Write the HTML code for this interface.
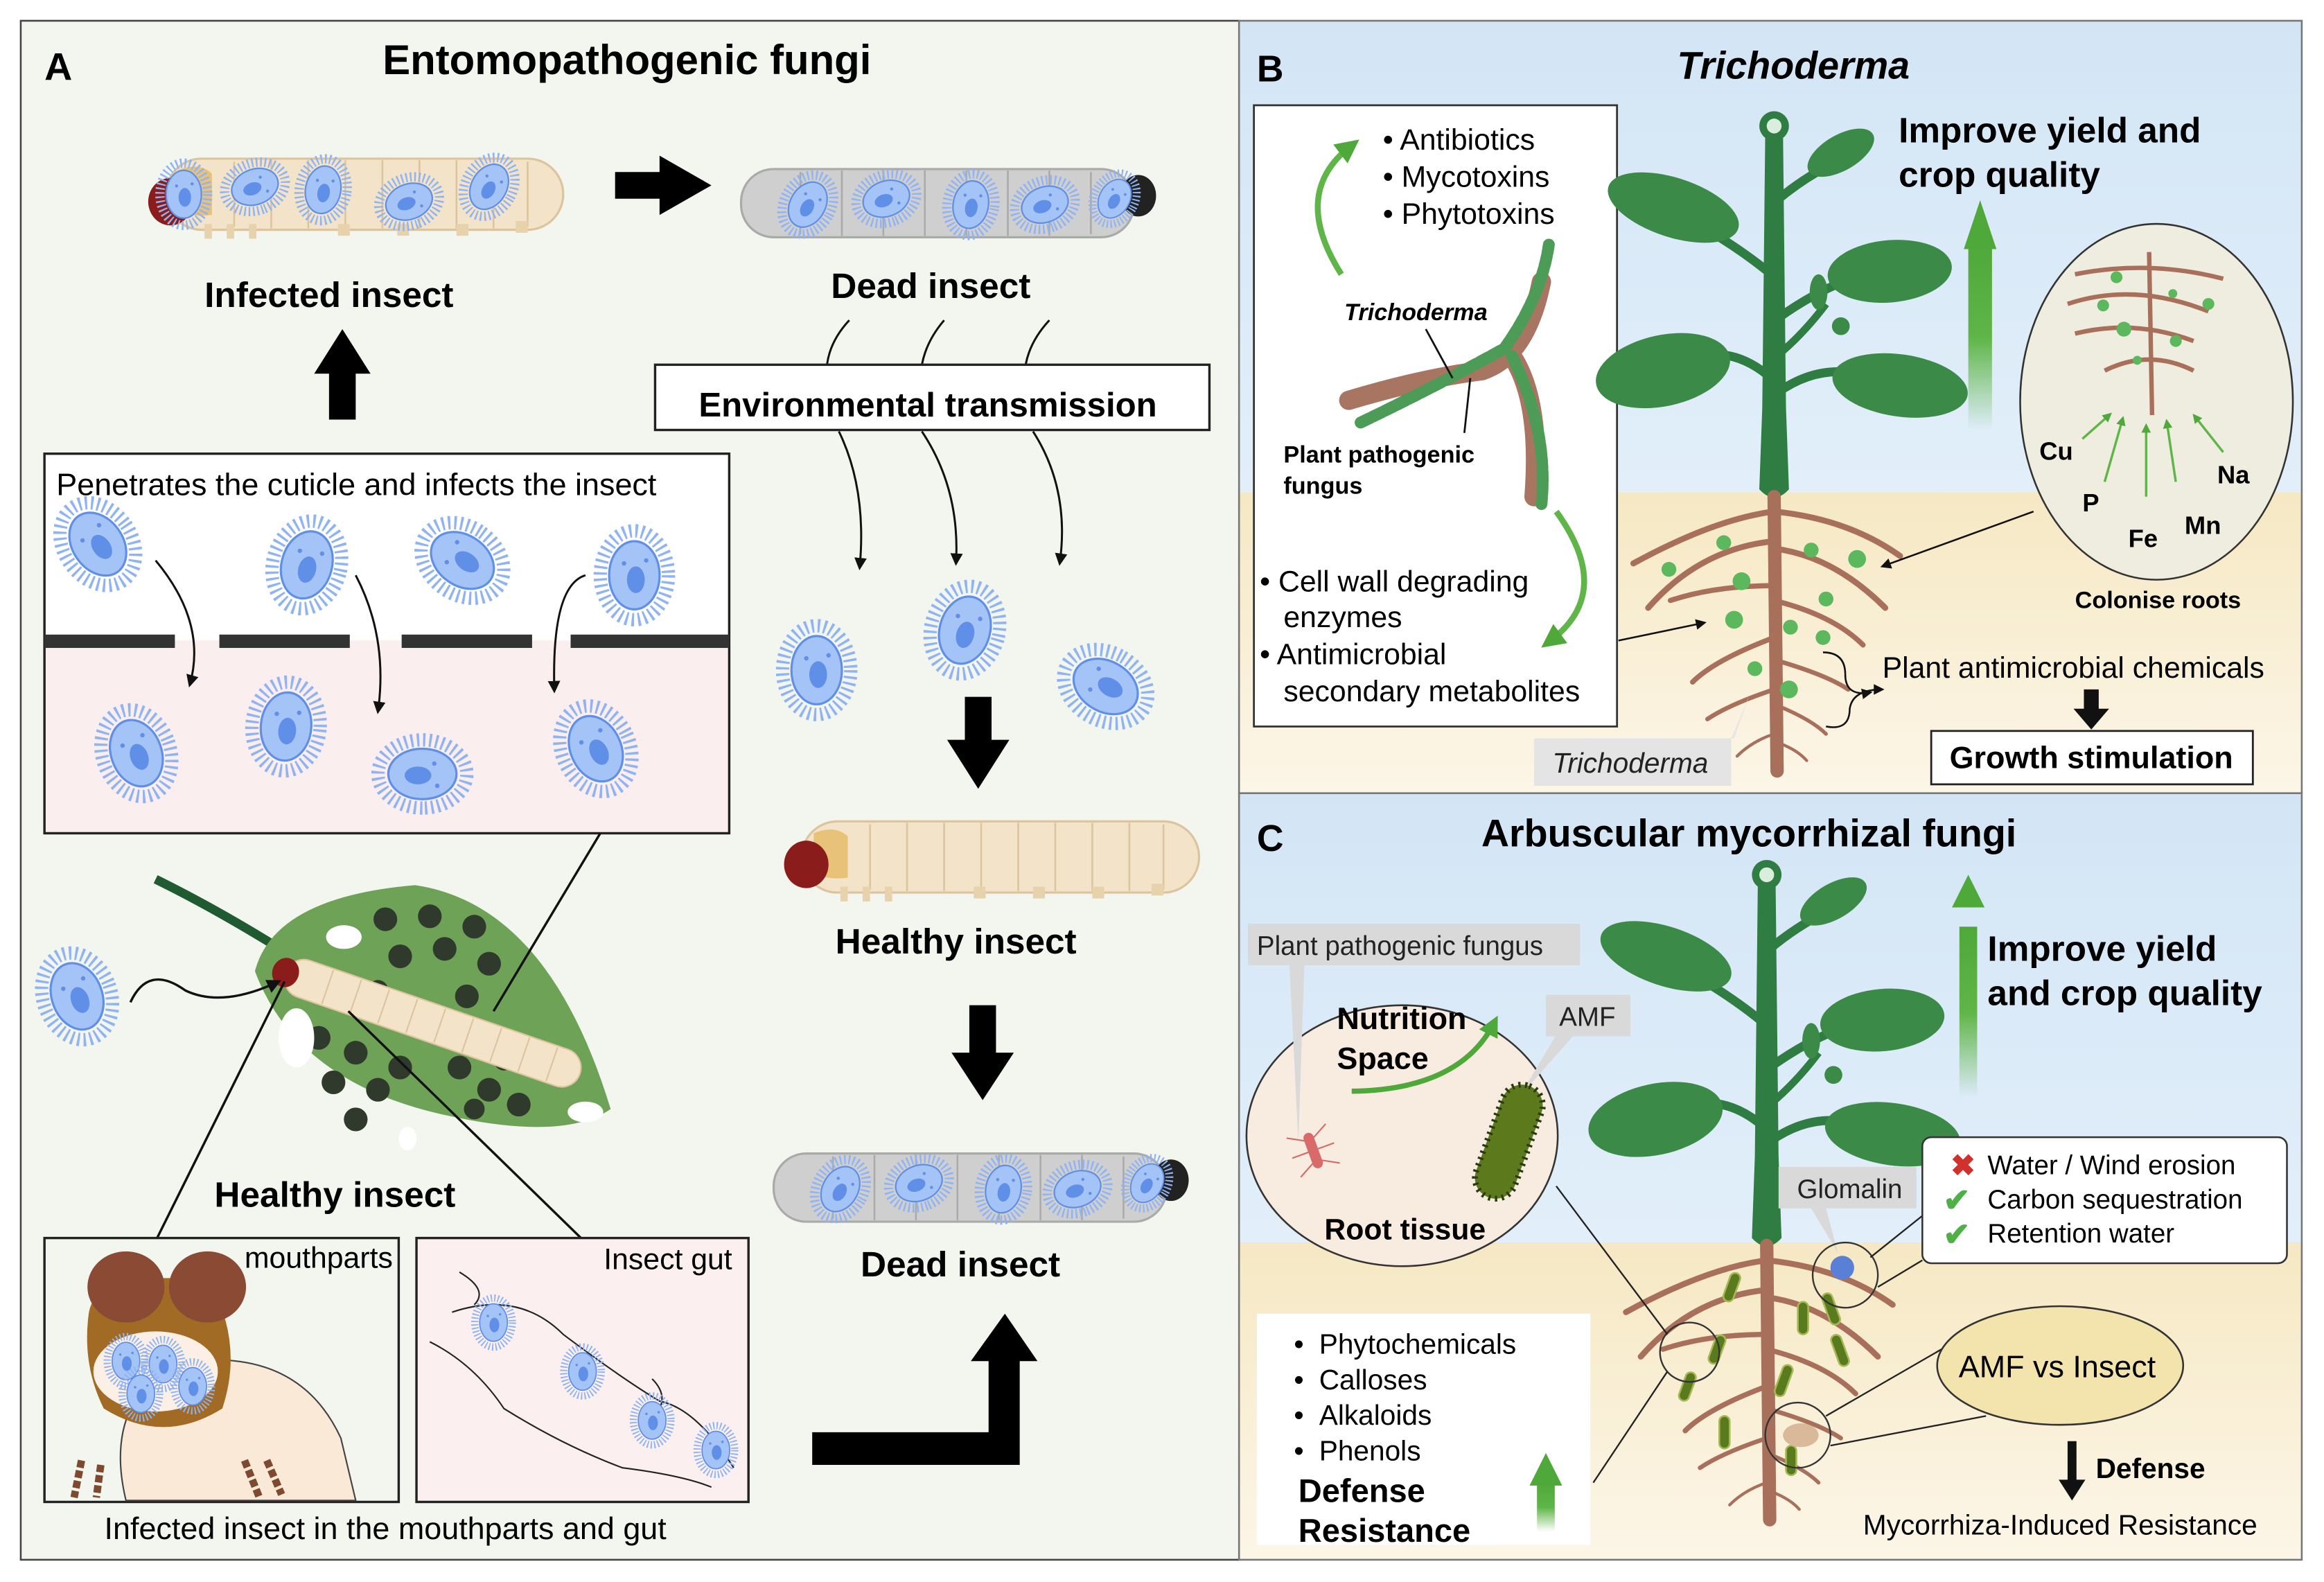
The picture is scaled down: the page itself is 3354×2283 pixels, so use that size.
<!DOCTYPE html>
<html><head><meta charset="utf-8"><style>
html,body{margin:0;padding:0;background:#fff}
svg{display:block}
text{font-family:"Liberation Sans",Arial,sans-serif}
</style></head><body>
<svg width="3354" height="2283" viewBox="0 0 1568 1067" preserveAspectRatio="none" xmlns="http://www.w3.org/2000/svg">
<defs>
<linearGradient id="soilB" x1="0" y1="0" x2="0" y2="1"><stop offset="0" stop-color="#f6e8c3"/><stop offset="1" stop-color="#fcf6e8"/></linearGradient>
<linearGradient id="skyB" x1="0" y1="0" x2="0" y2="1"><stop offset="0" stop-color="#d3e5f5"/><stop offset="1" stop-color="#e2effa"/></linearGradient>
<linearGradient id="garr" x1="0" y1="1" x2="0" y2="0"><stop offset="0" stop-color="#5fb548" stop-opacity="0"/><stop offset="0.5" stop-color="#5fb548"/><stop offset="1" stop-color="#4fa83a"/></linearGradient>
<marker id="ah" viewBox="0 0 10 10" refX="8" refY="5" markerWidth="6" markerHeight="6" orient="auto"><path d="M0,0L10,5L0,10z" fill="#111"/></marker>
<marker id="gah" viewBox="0 0 10 10" refX="6" refY="5" markerWidth="4" markerHeight="4" orient="auto"><path d="M0,0L10,5L0,10z" fill="#4fa83a"/></marker>
<g id="spore">
<ellipse rx="23" ry="30" fill="none" stroke="#8fb3f3" stroke-width="9" stroke-dasharray="1.6 2.6"/>
<ellipse rx="17" ry="23" fill="#a4c3f7" stroke="#5f8fe6" stroke-width="1.5"/>
<ellipse rx="6" ry="9" fill="#5f8fe6" cx="1" cy="3"/>
<circle cx="-7" cy="-8" r="1.5" fill="#5f8fe6"/><circle cx="8" cy="-10" r="1.5" fill="#5f8fe6"/>
</g>
<g id="ssp"><use href="#spore" transform="scale(0.55)"/></g>
<g id="larvaH">
<rect x="14" y="4" width="268" height="48" rx="24" fill="#f3e4c9" stroke="#dcc49e" stroke-width="1.5"/>
<g stroke="#dcc49e" stroke-width="1.2"><line x1="60" y1="6" x2="60" y2="50"/><line x1="85" y1="5" x2="85" y2="51"/><line x1="110" y1="5" x2="110" y2="51"/><line x1="135" y1="5" x2="135" y2="51"/><line x1="160" y1="5" x2="160" y2="51"/><line x1="185" y1="5" x2="185" y2="51"/><line x1="210" y1="5" x2="210" y2="51"/><line x1="235" y1="5" x2="235" y2="51"/><line x1="258" y1="6" x2="258" y2="50"/></g>
<g fill="#e8d2ac"><rect x="40" y="48" width="5" height="10"/><rect x="55" y="48" width="5" height="10"/><rect x="70" y="48" width="5" height="10"/><rect x="130" y="48" width="8" height="8"/><rect x="170" y="48" width="8" height="8"/><rect x="210" y="48" width="8" height="8"/><rect x="250" y="46" width="8" height="8"/></g>
<path d="M22,12 Q36,6 45,14 L45,42 Q30,44 22,38z" fill="#e9c27a"/>
<ellipse cx="17" cy="33" rx="15" ry="16" fill="#8a1c1c"/>
</g>
<g id="larvaD">
<rect x="0" y="6" width="265" height="46" rx="22" fill="#cfcfcf" stroke="#aaa" stroke-width="1.5"/>
<g stroke="#aaa" stroke-width="1.2"><line x1="40" y1="8" x2="40" y2="50"/><line x1="68" y1="7" x2="68" y2="51"/><line x1="96" y1="7" x2="96" y2="51"/><line x1="124" y1="7" x2="124" y2="51"/><line x1="152" y1="7" x2="152" y2="51"/><line x1="180" y1="7" x2="180" y2="51"/><line x1="208" y1="7" x2="208" y2="51"/><line x1="236" y1="8" x2="236" y2="50"/></g>
<ellipse cx="268" cy="24" rx="12" ry="14" fill="#222"/>
<use href="#spore" transform="translate(45,30) scale(0.7) rotate(30)"/>
<use href="#spore" transform="translate(98,26) scale(0.7) rotate(70)"/>
<use href="#spore" transform="translate(155,30) scale(0.7) rotate(10)"/>
<use href="#spore" transform="translate(205,30) scale(0.7) rotate(70)"/>
<use href="#spore" transform="translate(252,26) scale(0.6) rotate(30)"/>
</g>
<g id="plant">
<g fill="#2f7d42">
<path d="M-6,-245 L6,-245 L8,-60 L10,-5 Q0,6 -10,-5 L-8,-60z"/>
<circle cx="0" cy="-250" r="10"/>
<path d="M2,-200 Q20,-215 40,-225" stroke="#2f7d42" stroke-width="6" fill="none"/>
<path d="M-2,-150 Q-20,-165 -45,-180" stroke="#2f7d42" stroke-width="6" fill="none"/>
<path d="M2,-120 Q30,-140 55,-148" stroke="#2f7d42" stroke-width="6" fill="none"/>
<path d="M-2,-80 Q-25,-100 -50,-95" stroke="#2f7d42" stroke-width="6" fill="none"/>
<path d="M2,-70 Q30,-90 60,-82" stroke="#2f7d42" stroke-width="6" fill="none"/>
<path d="M2,-95 Q20,-110 35,-130" stroke="#2f7d42" stroke-width="5" fill="none"/>
</g>
<g fill="#3b8a47">
<ellipse cx="45" cy="-232" rx="25" ry="12" transform="rotate(-30 45 -232)"/>
<ellipse cx="-68" cy="-195" rx="46" ry="20" transform="rotate(18 -68 -195)"/>
<ellipse cx="78" cy="-152" rx="42" ry="21" transform="rotate(-5 78 -152)"/>
<ellipse cx="-75" cy="-85" rx="46" ry="24" transform="rotate(-12 -75 -85)"/>
<ellipse cx="85" cy="-75" rx="46" ry="21" transform="rotate(8 85 -75)"/>
<ellipse cx="30" cy="-138" rx="6" ry="12"/>
<circle cx="45" cy="-115" r="6"/>
</g>
<circle cx="0" cy="-250" r="5" fill="#d9eedd"/>
<g stroke="#a8705a" fill="none" stroke-linecap="round">
<path d="M0,0 L2,185" stroke-width="9"/>
<path d="M0,10 Q-40,15 -95,45" stroke-width="4"/>
<path d="M0,10 Q50,15 85,40" stroke-width="4"/>
<path d="M0,30 Q-50,35 -85,75" stroke-width="4"/>
<path d="M0,35 Q40,40 75,75" stroke-width="4"/>
<path d="M0,60 Q-40,60 -70,70" stroke-width="3.5"/>
<path d="M0,70 Q40,80 60,100" stroke-width="3.5"/>
<path d="M0,95 Q-40,110 -55,125" stroke-width="3.5"/>
<path d="M0,110 Q35,120 50,130" stroke-width="3"/>
<path d="M0,130 Q-30,140 -45,150" stroke-width="3"/>
<path d="M0,140 Q25,150 35,160" stroke-width="2.5"/>
<path d="M0,160 Q-15,165 -25,175 M0,165 Q15,170 22,178" stroke-width="2"/>
</g>
</g>
</defs>

<rect width="1568" height="1067" fill="#fff"/>
<!-- Panel A -->
<rect x="14" y="14" width="822" height="1038" fill="#f3f6ef" stroke="#444" stroke-width="1.2"/>
<text x="30" y="54" font-size="26" font-weight="bold">A</text>
<text x="423" y="50" font-size="28" font-weight="bold" text-anchor="middle">Entomopathogenic fungi</text>
<use href="#larvaH" transform="translate(98,103)"/>
<use href="#spore" transform="translate(124,131) scale(0.7)"/>
<use href="#spore" transform="translate(172,126) scale(0.7) rotate(70)"/>
<use href="#spore" transform="translate(218,128) scale(0.7) rotate(10)"/>
<use href="#spore" transform="translate(276,136) scale(0.7) rotate(70)"/>
<use href="#spore" transform="translate(330,126) scale(0.7) rotate(30)"/>
<text x="222" y="207" font-size="24" font-weight="bold" text-anchor="middle">Infected insect</text>
<polygon points="415,116 445,116 445,105 480,125 445,145 445,134 415,134" fill="#000"/>
<use href="#larvaD" transform="translate(500,108)"/>
<text x="628" y="201" font-size="24" font-weight="bold" text-anchor="middle">Dead insect</text>
<polygon points="222,283 240,283 240,252 250,252 231,222 212,252 222,252" fill="#000"/>
<g stroke="#111" stroke-width="1.4" fill="none">
<path d="M573,216 Q560,230 558,246"/><path d="M637,216 Q625,230 622,246"/><path d="M708,216 Q695,230 692,246"/>
<path d="M566,291 Q585,330 580,383" marker-end="url(#ah)"/>
<path d="M622,291 Q648,330 645,380" marker-end="url(#ah)"/>
<path d="M697,291 Q722,330 715,380" marker-end="url(#ah)"/>
</g>
<rect x="442" y="246" width="374" height="44" fill="#fff" stroke="#222" stroke-width="1.6"/>
<text x="626" y="281" font-size="23" font-weight="bold" text-anchor="middle">Environmental transmission</text>
<rect x="30" y="306" width="462" height="126" fill="#fff"/>
<rect x="30" y="432" width="462" height="130" fill="#fbeeee"/>
<rect x="30" y="306" width="462" height="256" fill="none" stroke="#222" stroke-width="1.6"/>
<g fill="#333"><rect x="30" y="428" width="88" height="9"/><rect x="148" y="428" width="88" height="9"/><rect x="271" y="428" width="88" height="9"/><rect x="385" y="428" width="107" height="9"/></g>
<text x="38" y="334" font-size="21">Penetrates the cuticle and infects the insect</text>
<use href="#spore" transform="translate(66,367) rotate(-35)"/>
<use href="#spore" transform="translate(207,381) rotate(15)"/>
<use href="#spore" transform="translate(312,378) rotate(-55)"/>
<use href="#spore" transform="translate(428,388) rotate(0)"/>
<use href="#spore" transform="translate(92,508) rotate(-20)"/>
<use href="#spore" transform="translate(193,490) rotate(5)"/>
<use href="#spore" transform="translate(285,522) rotate(90)"/>
<use href="#spore" transform="translate(402,505) rotate(-25)"/>
<g stroke="#111" stroke-width="1.4" fill="none">
<path d="M105,378 Q140,420 128,462" marker-end="url(#ah)"/>
<path d="M240,388 Q262,430 255,480" marker-end="url(#ah)"/>
<path d="M395,388 Q372,395 374,466" marker-end="url(#ah)"/>
</g>
<use href="#spore" transform="translate(551,452) rotate(0)"/>
<use href="#spore" transform="translate(651,425) rotate(15)"/>
<use href="#spore" transform="translate(746,463) rotate(-60)"/>
<polygon points="651,470 669,470 669,499 681,499 660,532 639,499 651,499" fill="#000"/>
<use href="#larvaH" transform="translate(527,550)"/>
<text x="645" y="643" font-size="24" font-weight="bold" text-anchor="middle">Healthy insect</text>
<polygon points="654,678 672,678 672,710 684,710 663,742 642,710 654,710" fill="#000"/>
<use href="#larvaD" transform="translate(522,772)"/>
<text x="648" y="861" font-size="24" font-weight="bold" text-anchor="middle">Dead insect</text>
<path d="M548,966 L667,966 L667,918 L655,918 L678,886 L700,918 L688,918 L688,988 L548,988z" fill="#000"/>
<!-- leaf -->
<path d="M105,593 Q160,620 220,660" stroke="#1f5a30" stroke-width="6" fill="none"/>
<path d="M172,655 Q185,605 280,597 Q370,610 412,748 Q380,770 300,752 Q200,730 172,655z" fill="#6ea357"/>
<g fill="#2f3a2c">
<circle cx="260" cy="620" r="8"/><circle cx="290" cy="618" r="8"/><circle cx="320" cy="625" r="8"/><circle cx="270" cy="645" r="8"/><circle cx="300" cy="640" r="8"/><circle cx="330" cy="650" r="8"/><circle cx="255" cy="668" r="7"/><circle cx="315" cy="672" r="8"/>
<circle cx="215" cy="700" r="8"/><circle cx="240" cy="710" r="8"/><circle cx="225" cy="730" r="8"/><circle cx="255" cy="735" r="8"/><circle cx="240" cy="755" r="8"/><circle cx="270" cy="720" r="8"/>
<circle cx="310" cy="720" r="8"/><circle cx="330" cy="735" r="8"/><circle cx="350" cy="745" r="8"/><circle cx="320" cy="748" r="7"/><circle cx="340" cy="715" r="7"/>
</g>
<g fill="#fff"><ellipse cx="232" cy="632" rx="12" ry="8"/><ellipse cx="200" cy="700" rx="12" ry="20"/><ellipse cx="395" cy="750" rx="12" ry="7"/><ellipse cx="275" cy="768" rx="6" ry="8"/></g>
<g transform="translate(193,655) rotate(19)">
<rect x="0" y="-12" width="210" height="26" rx="13" fill="#f3e4c9" stroke="#dcc49e"/>
<g stroke="#dcc49e"><line x1="30" y1="-11" x2="30" y2="13"/><line x1="50" y1="-11" x2="50" y2="13"/><line x1="70" y1="-11" x2="70" y2="13"/><line x1="90" y1="-11" x2="90" y2="13"/><line x1="110" y1="-11" x2="110" y2="13"/><line x1="130" y1="-11" x2="130" y2="13"/><line x1="150" y1="-11" x2="150" y2="13"/><line x1="170" y1="-11" x2="170" y2="13"/><line x1="190" y1="-11" x2="190" y2="13"/></g>
<ellipse cx="0" cy="1" rx="9" ry="10" fill="#8a1c1c"/>
</g>
<use href="#spore" transform="translate(52,672) rotate(-20)"/>
<path d="M88,676 Q100,650 125,668 Q150,680 188,662" stroke="#111" stroke-width="1.6" fill="none" marker-end="url(#ah)"/>
<g stroke="#111" stroke-width="1.6"><line x1="405" y1="562" x2="333" y2="682"/><line x1="106" y1="835" x2="192" y2="662"/><line x1="392" y1="835" x2="235" y2="682"/></g>
<text x="226" y="814" font-size="24" font-weight="bold" text-anchor="middle">Healthy insect</text>
<rect x="30" y="835" width="239" height="178" fill="#f3f6ef" stroke="#222" stroke-width="1.6"/>
<path d="M115,920 Q200,905 230,970 L240,1012 L85,1012 Q70,950 115,920z" fill="#fbe9d8" stroke="#444" stroke-width="1"/>
<path d="M60,885 Q65,860 110,862 L140,862 Q165,905 150,950 Q110,975 70,950 Q55,920 60,885z" fill="#a26b25"/>
<ellipse cx="105" cy="925" rx="42" ry="27" fill="#fbefe6"/>
<ellipse cx="85" cy="868" rx="26" ry="24" fill="#8b4a34"/><ellipse cx="140" cy="868" rx="26" ry="24" fill="#8b4a34"/>
<use href="#ssp" transform="translate(85,918)"/><use href="#ssp" transform="translate(110,920)"/><use href="#ssp" transform="translate(130,935)"/><use href="#ssp" transform="translate(95,940)"/>
<g stroke="#7d4a30" stroke-width="5" stroke-dasharray="5 2"><line x1="55" y1="985" x2="50" y2="1010"/><line x1="68" y1="988" x2="65" y2="1010"/><line x1="165" y1="985" x2="175" y2="1010"/><line x1="180" y1="985" x2="190" y2="1008"/></g>
<text x="265" y="855" font-size="20" text-anchor="end">mouthparts</text>
<rect x="281" y="835" width="224" height="178" fill="#fbf0ef" stroke="#222" stroke-width="1.6"/>
<g stroke="#222" stroke-width="1" fill="none"><path d="M305,885 Q350,870 380,900 Q420,930 445,945 Q470,950 495,990"/><path d="M290,905 Q320,920 340,950 Q380,975 420,990 Q460,995 480,1003"/><path d="M310,858 Q330,870 320,880"/><path d="M440,930 Q450,940 445,950"/></g>
<use href="#ssp" transform="translate(333,892)"/><use href="#ssp" transform="translate(393,925)"/><use href="#ssp" transform="translate(440,958)"/><use href="#ssp" transform="translate(483,978)"/>
<text x="494" y="856" font-size="20" text-anchor="end">Insect gut</text>
<text x="260" y="1038" font-size="21" text-anchor="middle">Infected insect in the mouthparts and gut</text>

<!-- Panel B -->
<rect x="836" y="14" width="717" height="318" fill="url(#skyB)"/>
<rect x="836" y="332" width="717" height="203" fill="url(#soilB)"/>
<rect x="836" y="14" width="717" height="521" fill="none" stroke="#777" stroke-width="1.2"/>
<text x="848" y="55" font-size="25" font-weight="bold">B</text>
<text x="1210" y="53" font-size="26" font-weight="bold" font-style="italic" text-anchor="middle">Trichoderma</text>
<rect x="846" y="71" width="245" height="419" fill="#fff" stroke="#333" stroke-width="1.3"/>
<text x="933" y="101" font-size="20">• Antibiotics</text>
<text x="933" y="126" font-size="20">• Mycotoxins</text>
<text x="933" y="151" font-size="20">• Phytotoxins</text>
<path d="M905,185 Q870,130 912,98" stroke="#5fb548" stroke-width="4" fill="none" marker-end="url(#gah)"/>
<path d="M1050,345 Q1090,400 1045,433" stroke="#5fb548" stroke-width="4" fill="none" marker-end="url(#gah)"/>
<g fill="none" stroke-linecap="round">
<path d="M910,270 Q960,255 1000,250 Q1030,240 1040,190" stroke="#a87563" stroke-width="13"/>
<path d="M1020,240 Q1040,270 1035,335" stroke="#a87563" stroke-width="13"/>
<path d="M918,285 Q970,260 1015,235 Q1040,200 1045,165" stroke="#4c9c57" stroke-width="8" stroke-dasharray="7 2"/>
<path d="M1020,240 Q1045,290 1040,340" stroke="#4c9c57" stroke-width="8" stroke-dasharray="7 2"/>
</g>
<g stroke="#111" stroke-width="1.3"><line x1="962" y1="222" x2="980" y2="255"/><line x1="992" y1="255" x2="988" y2="292"/></g>
<text x="907" y="216" font-size="16" font-weight="bold" font-style="italic">Trichoderma</text>
<text x="866" y="312" font-size="16" font-weight="bold">Plant pathogenic</text>
<text x="866" y="333" font-size="16" font-weight="bold">fungus</text>
<text x="850" y="399" font-size="20">• Cell wall degrading</text>
<text x="866" y="423" font-size="20">enzymes</text>
<text x="850" y="448" font-size="20">• Antimicrobial</text>
<text x="866" y="473" font-size="20">secondary metabolites</text>
<use href="#plant" transform="translate(1197,335)"/>
<g fill="#5cb85c"><circle cx="1126" cy="384" r="5"/><circle cx="1163" cy="366" r="5"/><circle cx="1175" cy="392" r="6"/><circle cx="1222" cy="371" r="5"/><circle cx="1253" cy="377" r="6"/><circle cx="1232" cy="404" r="5"/><circle cx="1170" cy="418" r="6"/><circle cx="1208" cy="423" r="5"/><circle cx="1230" cy="430" r="5"/><circle cx="1184" cy="451" r="5"/><circle cx="1207" cy="465" r="6"/></g>
<rect x="1328" y="165" width="16" height="125" fill="url(#garr)"/>
<polygon points="1325,168 1347,168 1336,135" fill="#4fa83a"/>
<text x="1281" y="96" font-size="24" font-weight="bold">Improve yield and</text>
<text x="1281" y="126" font-size="24" font-weight="bold">crop quality</text>
<ellipse cx="1455" cy="271" rx="92" ry="120" fill="#efeddf" stroke="#333" stroke-width="1.2"/>
<g stroke="#a8705a" fill="none" stroke-width="3"><path d="M1450,170 L1452,280"/><path d="M1400,185 Q1450,175 1500,188"/><path d="M1395,205 Q1440,190 1490,210"/><path d="M1400,225 Q1440,215 1480,230"/><path d="M1420,250 Q1450,235 1480,250"/></g>
<g fill="#5cb85c"><circle cx="1428" cy="187" r="4"/><circle cx="1419" cy="206" r="4"/><circle cx="1433" cy="222" r="5"/><circle cx="1466" cy="198" r="3"/><circle cx="1490" cy="205" r="4"/><circle cx="1468" cy="230" r="4"/><circle cx="1442" cy="243" r="3"/></g>
<g stroke="#5fb548" stroke-width="1.6" marker-end="url(#gah)"><line x1="1405" y1="296" x2="1423" y2="280"/><line x1="1420" y1="325" x2="1432" y2="283"/><line x1="1448" y1="335" x2="1448" y2="288"/><line x1="1468" y1="325" x2="1462" y2="285"/><line x1="1500" y1="305" x2="1481" y2="281"/></g>
<g font-size="17" font-weight="bold"><text x="1376" y="310">Cu</text><text x="1405" y="345">P</text><text x="1436" y="369">Fe</text><text x="1474" y="360">Mn</text><text x="1496" y="326">Na</text></g>
<text x="1456" y="410" font-size="16" font-weight="bold" text-anchor="middle">Colonise roots</text>
<g stroke="#111" stroke-width="1.2" fill="none">
<line x1="1372" y1="345" x2="1270" y2="382" marker-end="url(#ah)"/>
<line x1="1092" y1="432" x2="1150" y2="420" marker-end="url(#ah)"/>
<path d="M1230,440 Q1245,440 1245,455 Q1245,470 1262,467" marker-end="url(#ah)"/>
<path d="M1232,490 Q1248,493 1248,478 Q1250,465 1270,465" marker-end="url(#ah)"/>
</g>
<text x="1270" y="457" font-size="20">Plant antimicrobial chemicals</text>
<polygon points="1406,465 1416,465 1416,478 1423,478 1411,492 1399,478 1406,478" fill="#111"/>
<rect x="1303" y="493" width="217" height="36" fill="#fff" stroke="#222" stroke-width="1.3"/>
<text x="1411" y="518" font-size="21" font-weight="bold" text-anchor="middle">Growth stimulation</text>
<polygon points="1130,498 1170,498 1180,470 1168,498" fill="#e6e6e6"/>
<rect x="1035" y="498" width="133" height="32" fill="#e4e4e4"/>
<text x="1100" y="521" font-size="19" font-style="italic" text-anchor="middle" fill="#222">Trichoderma</text>

<!-- Panel C -->
<rect x="836" y="535" width="717" height="303" fill="url(#skyB)"/>
<rect x="836" y="838" width="717" height="214" fill="url(#soilB)"/>
<rect x="836" y="535" width="717" height="517" fill="none" stroke="#777" stroke-width="1.2"/>
<text x="848" y="574" font-size="25" font-weight="bold">C</text>
<text x="1180" y="571" font-size="26" font-weight="bold" text-anchor="middle">Arbuscular mycorrhizal fungi</text>
<use href="#plant" transform="translate(1192,840)"/>
<g fill="#5a7a1e" stroke="#a7b957" stroke-width="1.2">
<rect x="1165" y="858" width="7" height="20" rx="3.5" transform="rotate(20 1168 868)"/><rect x="1232" y="872" width="7" height="22" rx="3.5" transform="rotate(-20 1235 883)"/><rect x="1213" y="878" width="7" height="22" rx="3.5"/><rect x="1238" y="900" width="7" height="22" rx="3.5" transform="rotate(-20 1241 911)"/><rect x="1155" y="900" width="7" height="20" rx="3.5" transform="rotate(20 1158 910)"/><rect x="1200" y="920" width="7" height="22" rx="3.5" transform="rotate(20 1203 931)"/><rect x="1135" y="925" width="7" height="20" rx="3.5" transform="rotate(20 1138 935)"/><rect x="1160" y="955" width="7" height="22" rx="3.5"/><rect x="1205" y="975" width="7" height="20" rx="3.5"/>
</g>
<rect x="1322" y="625" width="12" height="115" fill="url(#garr)"/>
<polygon points="1317,612 1339,612 1328,590" fill="#4fa83a"/>
<text x="1341" y="648" font-size="24" font-weight="bold">Improve yield</text>
<text x="1341" y="678" font-size="24" font-weight="bold">and crop quality</text>
<ellipse cx="946" cy="766" rx="105" ry="88" fill="#f8ebe0" stroke="#333" stroke-width="1.2"/>
<polygon points="870,651 880,651 876,770" fill="#d9d9d9"/>
<rect x="842" y="623" width="224" height="28" fill="#d9d9d9"/>
<text x="848" y="644" font-size="18" fill="#222">Plant pathogenic fungus</text>
<polygon points="1050,698 1062,698 1025,740" fill="#d9d9d9"/>
<rect x="1043" y="671" width="57" height="28" fill="#d9d9d9"/>
<text x="1071" y="692" font-size="18" text-anchor="middle" fill="#222">AMF</text>
<text x="902" y="694" font-size="21" font-weight="bold">Nutrition</text>
<text x="902" y="721" font-size="21" font-weight="bold">Space</text>
<path d="M912,736 Q985,735 1008,690" stroke="#4fa83a" stroke-width="3.5" fill="none" marker-end="url(#gah)"/>
<g transform="translate(1018,770) rotate(20)"><rect x="-14" y="-40" width="28" height="80" rx="14" fill="#5c7a1c" stroke="#2a3a10" stroke-width="4" stroke-dasharray="1.5 3"/></g>
<g transform="translate(886,776) rotate(-20)" stroke="#d86a6a" stroke-width="1" fill="none"><rect x="-3" y="-12" width="6" height="24" rx="3" fill="#d86a6a"/><path d="M-3,-8 L-14,-14 M-3,0 L-15,0 M-3,8 L-14,14 M3,-8 L14,-14 M3,0 L15,0 M3,8 L14,14"/></g>
<text x="948" y="836" font-size="20" font-weight="bold" text-anchor="middle">Root tissue</text>
<polygon points="1222,815 1232,815 1240,845" fill="#d9d9d9"/>
<rect x="1200" y="787" width="93" height="28" fill="#d9d9d9"/>
<text x="1248" y="808" font-size="18" text-anchor="middle" fill="#222">Glomalin</text>
<circle cx="1245" cy="860" r="22" fill="none" stroke="#333" stroke-width="1.1"/>
<circle cx="1243" cy="855" r="8" fill="#5a7fd6"/>
<circle cx="1140" cy="912" r="20" fill="none" stroke="#333" stroke-width="1.1"/>
<circle cx="1213" cy="968" r="22" fill="none" stroke="#333" stroke-width="1.1"/>
<ellipse cx="1215" cy="968" rx="12" ry="8" fill="#d9b99a"/>
<g stroke="#222" stroke-width="1.1"><line x1="1050" y1="800" x2="1125" y2="900"/><line x1="1075" y1="1000" x2="1125" y2="925"/><line x1="1262" y1="848" x2="1297" y2="820"/><line x1="1267" y1="868" x2="1297" y2="850"/><line x1="1232" y1="955" x2="1310" y2="910"/><line x1="1235" y1="975" x2="1340" y2="955"/></g>
<rect x="1297" y="767" width="246" height="85" rx="6" fill="#fff" stroke="#333" stroke-width="1.2"/>
<text x="1316" y="793" font-size="20" font-weight="bold" fill="#d0312d">✖</text>
<text x="1311" y="817" font-size="22" font-weight="bold" fill="#4fb048">✔</text>
<text x="1311" y="840" font-size="22" font-weight="bold" fill="#4fb048">✔</text>
<text x="1341" y="792" font-size="18">Water / Wind erosion</text>
<text x="1341" y="815" font-size="18">Carbon sequestration</text>
<text x="1341" y="838" font-size="18">Retention water</text>
<rect x="848" y="886" width="225" height="156" fill="#fff"/>
<g font-size="19"><text x="873" y="913">•</text><text x="890" y="913">Phytochemicals</text><text x="873" y="937">•</text><text x="890" y="937">Calloses</text><text x="873" y="961">•</text><text x="890" y="961">Alkaloids</text><text x="873" y="985">•</text><text x="890" y="985">Phenols</text></g>
<text x="876" y="1013" font-size="22" font-weight="bold">Defense</text>
<text x="876" y="1040" font-size="22" font-weight="bold">Resistance</text>
<rect x="1037" y="1000" width="12" height="33" fill="url(#garr)"/>
<polygon points="1032,1002 1054,1002 1043,980" fill="#4fa83a"/>
<ellipse cx="1390" cy="921" rx="83" ry="40" fill="#f3e4ad" stroke="#333" stroke-width="1.2"/>
<text x="1388" y="929" font-size="21" text-anchor="middle">AMF vs Insect</text>
<polygon points="1395,972 1401,972 1401,998 1407,998 1398,1012 1389,998 1395,998" fill="#111"/>
<text x="1414" y="997" font-size="19" font-weight="bold">Defense</text>
<text x="1390" y="1035" font-size="19" text-anchor="middle">Mycorrhiza-Induced Resistance</text>
</svg>
</body></html>
